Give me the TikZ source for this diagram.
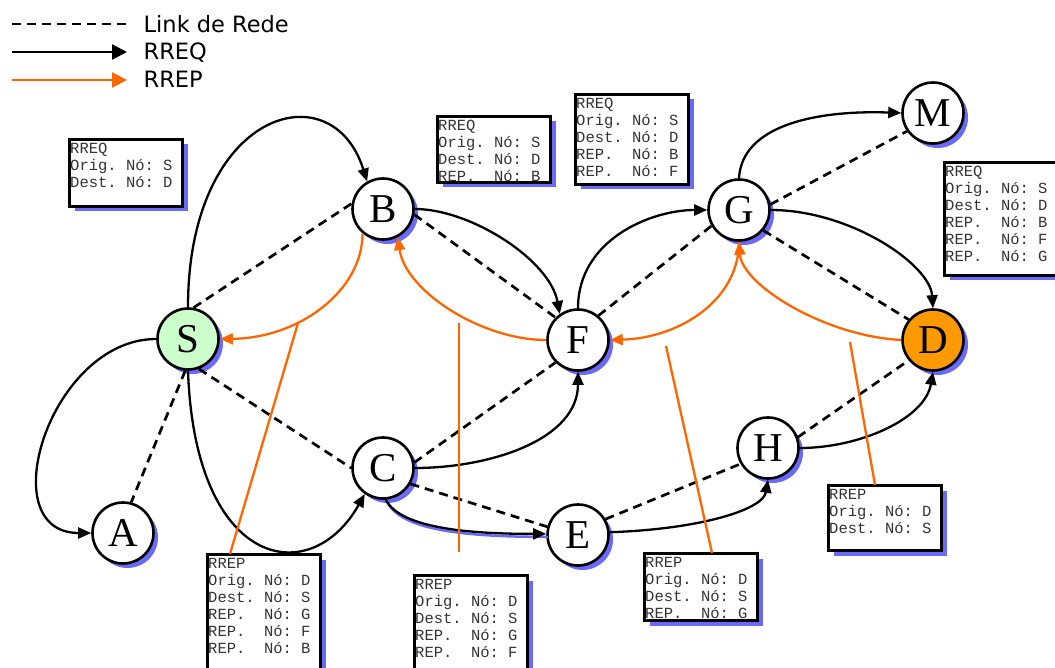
\documentclass[tikz,border=0pt]{standalone}
\usepackage{fontspec}
\setmainfont{Liberation Serif}
\newfontfamily\legendfont{DejaVu Sans}
\newfontfamily\msgfont{Liberation Mono}
\usetikzlibrary{arrows.meta,shadows}

\definecolor{shadowblue}{RGB}{105,105,250}
\definecolor{replyorange}{RGB}{255,102,0}
\definecolor{srcgreen}{RGB}{204,255,204}
\definecolor{dstorange}{RGB}{255,153,0}

\tikzset{
  station/.style={circle, draw=black, line width=2.6pt, fill=white,
    minimum size=61pt, inner sep=0pt, font=\fontsize{41}{41}\selectfont,
    drop shadow={shadow xshift=4.5pt, shadow yshift=-4.5pt, fill=shadowblue, opacity=1}},
  msgbox/.style={rectangle, draw=black, line width=3pt, fill=white,
    minimum width=113pt, inner sep=0pt, outer sep=0pt, anchor=north west,
    drop shadow={shadow xshift=5pt, shadow yshift=-5pt, fill=shadowblue, opacity=1}},
  msgtext/.style={anchor=north west, inner xsep=0.5pt, inner ysep=0pt, align=left,
    text=black!80, font=\msgfont\fontsize{15.5}{17}\selectfont\frenchspacing},
  legendtext/.style={anchor=base west, inner sep=0pt,
    font=\legendfont\fontsize{22.5}{27}\selectfont},
  link/.style={dash pattern=on 9pt off 6pt, line width=2.7pt, black},
  rreq/.style={line width=2.3pt, black, -{Triangle[length=13pt,width=11pt]}},
  rrep/.style={line width=2.3pt, replyorange, -{Triangle[length=13pt,width=11pt]}},
  callout/.style={line width=2.3pt, replyorange},
}

\begin{document}
\begin{tikzpicture}[x=1pt, y=-1pt]
\useasboundingbox (0,0) rectangle (1055,668);
\clip (0,0) rectangle (1055,668);
\fill[white] (0,0) rectangle (1055,668);

% legend
\coordinate (lga) at (12,24);  \coordinate (lgb) at (127,24);
\coordinate (lqa) at (12,52);  \coordinate (lqb) at (127,52);
\coordinate (lpa) at (12,80);  \coordinate (lpb) at (127,80);
\draw[link] (lga) -- (lgb);
\draw[line width=2.3pt, black, -{Triangle[length=15pt,width=15pt]}] (lqa) -- (lqb);
\draw[line width=2.3pt, replyorange, -{Triangle[length=15pt,width=15pt]}] (lpa) -- (lpb);
\node[legendtext] (lg1) at (143.5,33) {Link de Rede};
\node[legendtext] (lg2) at (143.5,59.5) {RREQ};
\node[legendtext] (lg3) at (143.5,87.5) {RREP};

% message boxes
\node[msgbox, minimum height=67pt]  (b1) at (69.5,139.5) {};
\node[msgbox, minimum height=66pt]  (b2) at (437.5,116.5) {};
\node[msgbox, minimum height=90pt]  (b3) at (575.5,94.5) {};
\node[msgbox, minimum height=113pt] (b4) at (944.5,162.5) {};
\node[msgbox, minimum height=130pt] (b5) at (207.5,554.5) {};
\node[msgbox, minimum height=110pt] (b6) at (414.5,575.5) {};
\node[msgbox, minimum height=67pt]  (b7) at (644.5,553.5) {};
\node[msgbox, minimum height=65pt]  (b8) at (828.5,485.5) {};

\node[msgtext] (t1) at (b1.north west) {\rule{0pt}{14pt}RREQ\\Orig.~Nó:~S\\Dest.~Nó:~D};
\node[msgtext] (t2) at (b2.north west) {\rule{0pt}{14pt}RREQ\\Orig.~Nó:~S\\Dest.~Nó:~D\\REP.~~Nó:~B};
\node[msgtext] (t3) at (b3.north west) {\rule{0pt}{14pt}RREQ\\Orig.~Nó:~S\\Dest.~Nó:~D\\REP.~~Nó:~B\\REP.~~Nó:~F};
\node[msgtext] (t4) at (b4.north west) {\rule{0pt}{14pt}RREQ\\Orig.~Nó:~S\\Dest.~Nó:~D\\REP.~~Nó:~B\\REP.~~Nó:~F\\REP.~~Nó:~G};
\node[msgtext] (t5) at (b5.north west) {\rule{0pt}{14pt}RREP\\Orig.~Nó:~D\\Dest.~Nó:~S\\REP.~~Nó:~G\\REP.~~Nó:~F\\REP.~~Nó:~B};
\node[msgtext] (t6) at (b6.north west) {\rule{0pt}{14pt}RREP\\Orig.~Nó:~D\\Dest.~Nó:~S\\REP.~~Nó:~G\\REP.~~Nó:~F};
\node[msgtext] (t7) at (b7.north west) {\rule{0pt}{14pt}RREP\\Orig.~Nó:~D\\Dest.~Nó:~S\\REP.~~Nó:~G};
\node[msgtext] (t8) at (b8.north west) {\rule{0pt}{14pt}RREP\\Orig.~Nó:~D\\Dest.~Nó:~S};

% network stations
\node[station, fill=srcgreen]  (S) at (188,339) {S};
\node[station] (A) at (123,533) {A};
\node[station] (B) at (383,209) {B};
\node[station] (C) at (383,468) {C};
\node[station] (E) at (578,535) {E};
\node[station] (F) at (578,340) {F};
\node[station] (G) at (739,210) {G};
\node[station] (M) at (933,113) {M};
\node[station, fill=dstorange] (D) at (933,340) {D};
\node[station] (H) at (768,448) {H};

% network links
\draw[link] (S.80)  -- (B.170);
\draw[link] (S.-70) -- (C.180);
\draw[link] (S.-95) -- (A.75);
\draw[link] (B.-10) -- (F.135);
\draw[link] (C.10)  -- (F.225);
\draw[link] (C.-30) -- (E.165);
\draw[link] (F.50)  -- (G.210);
\draw[link] (G.10)  -- (M.215);
\draw[link] (G.-40) -- (D.140);
\draw[link] (E.30)  -- (H.210);
\draw[link] (H.20)  -- (D.220);

% route request flooding
\draw[line width=2.5pt, shadowblue, transform canvas={shift={(2pt,-3pt)}}]
  (C.-85) .. controls +(15,30) and +(-70,0) .. (E.178);
\draw[rreq] (S.north) .. controls +(0,-197) and +(-35,-112) .. (B.120);
\draw[rreq] (S.west) .. controls +(-106,0) and +(-101,0) .. (A.west);
\draw[rreq] (S.south) .. controls +(7,199) and +(-54,96) .. (C.235);
\draw[rreq] (B.east) .. controls +(56,0) and +(-10,-54) .. (F.125);
\draw[rreq] (F.north) .. controls +(0,-68) and +(-57,0) .. (G.west);
\draw[rreq] (C.east) .. controls +(75,0) and +(0,68) .. (F.south);
\draw[rreq] (C.-85) .. controls +(15,30) and +(-70,0) .. (E.178);
\draw[rreq] (E.5) .. controls +(90,-3) and +(-5,30) .. (H.south);
\draw[rreq] (H.east) .. controls +(60,0) and +(-8,47) .. (D.south);
\draw[rreq] (G.east) .. controls +(79,0) and +(-3,-44) .. (D.north);
\draw[rreq] (G.north) .. controls +(3,-54) and +(-82,-3) .. (M.west);

% route reply path
\draw[rrep] (B.-130) .. controls +(0,57) and +(80,-1) .. (S.east);
\draw[rrep] (F.west) .. controls +(-66,0) and +(7,53) .. (B.-62);
\draw[rrep] (G.south) .. controls +(0,58) and +(70,-2) .. (F.east);
\draw[rrep] (D.west) .. controls +(-77,-4) and +(3,43) .. (G.south);

% callout pointers
\coordinate (p1a) at (298,323); \coordinate (p1b) at (230,554);
\coordinate (p2a) at (459,323); \coordinate (p2b) at (459,552);
\coordinate (p3a) at (666,346); \coordinate (p3b) at (712,553);
\coordinate (p4a) at (850,342); \coordinate (p4b) at (875,485);
\draw[callout] (p1a) -- (p1b);
\draw[callout] (p2a) -- (p2b);
\draw[callout] (p3a) -- (p3b);
\draw[callout] (p4a) -- (p4b);
\end{tikzpicture}
\end{document}
